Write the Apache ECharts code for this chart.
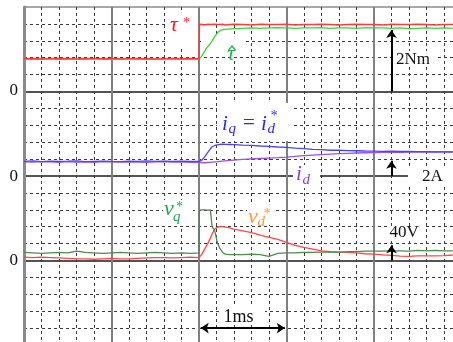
<!DOCTYPE html>
<html><head><meta charset="utf-8">
<script src="https://cdn.jsdelivr.net/npm/echarts@6/dist/echarts.min.js"></script>
<style>html,body{margin:0;padding:0;background:#fff}#c{width:453px;height:342px}</style>
</head><body><div id="c"></div>
<script>
// time in ms
const time = [0,0.1,0.2,0.3,0.4,0.5,0.6,0.7,0.8,0.9,1.0,1.1,1.2,1.3,1.4,1.5,1.6,1.7,1.8,1.9,2.0,
  2.005,2.03,2.06,2.08,2.1,2.13,2.15,2.18,2.21,2.24,2.27,2.3,2.35,2.4,
  2.5,2.6,2.7,2.8,2.9,3.0,3.1,3.2,3.3,3.4,3.5,3.6,3.7,3.8,3.9,4.0,4.1,4.2,4.3,4.4,4.5,4.6,4.7,4.8,4.9];
// torque reference tau* (Nm)
const tauRef = [0.97,0.98,0.96,0.97,0.98,0.97,0.96,0.98,0.97,0.97,0.98,0.96,0.97,0.98,0.97,0.96,0.97,0.98,0.97,0.98,0.97,
  1.98,1.99,1.97,1.98,1.99,1.98,1.97,1.99,1.98,1.98,1.99,1.97,1.98,1.99,
  1.98,1.97,1.99,1.98,1.98,1.99,1.97,1.98,1.98,1.99,1.98,1.97,1.98,1.99,1.98,1.98,1.97,1.99,1.98,1.98,1.99,1.98,1.97,1.98,1.98];
// estimated torque tau-hat (Nm)
const tauEst = [0.96,0.95,0.96,0.97,0.95,0.96,0.96,0.95,0.97,0.96,0.95,0.96,0.97,0.96,0.95,0.96,0.96,0.97,0.95,0.96,0.96,
  0.96,1.04,1.17,1.26,1.33,1.42,1.49,1.63,1.73,1.80,1.83,1.84,1.85,1.86,
  1.87,1.88,1.87,1.88,1.89,1.88,1.87,1.88,1.88,1.89,1.87,1.88,1.88,1.87,1.89,1.88,1.88,1.87,1.88,1.86,1.87,1.88,1.87,1.88,1.87];
// currents (A)
const iq = [1.74,1.78,1.70,1.76,1.72,1.75,1.79,1.71,1.74,1.77,1.73,1.70,1.76,1.74,1.78,1.72,1.75,1.73,1.77,1.74,1.72,
  1.74,1.86,2.21,2.51,2.80,3.22,3.46,3.61,3.69,3.75,3.77,3.74,3.73,3.72,
  3.66,3.62,3.55,3.51,3.43,3.38,3.29,3.23,3.15,3.11,3.05,3.05,3.00,2.99,2.96,2.95,2.92,2.93,2.90,2.91,2.88,2.89,2.86,2.86,2.84];
const id = [1.68,1.64,1.70,1.66,1.62,1.69,1.65,1.67,1.63,1.70,1.66,1.64,1.68,1.65,1.62,1.67,1.69,1.64,1.66,1.63,1.62,
  1.60,1.58,1.57,1.58,1.60,1.62,1.64,1.67,1.70,1.74,1.77,1.80,1.85,1.89,
  1.96,2.02,2.07,2.12,2.17,2.24,2.32,2.40,2.47,2.54,2.59,2.64,2.68,2.72,2.75,2.77,2.79,2.80,2.81,2.82,2.83,2.84,2.84,2.85,2.86];
// voltage references (V)
const vq = [19,18,17,18,19,18,22,19,18,17,18,19,18,17,18,19,18,17,18,17,18,
  119,120,120,120,119,120,80,70,42,28,19,15,14,14,
  14,15,14,10,17,18,18,19,19,20,20,20,21,21,22,22,22,23,23,22,24,23,24,23,23];
const vd = [8,7,8,7,6,5,4,4,3,4,5,4,4,5,6,7,7,6,7,8,7,
  8,14,25,33,40,53,63,74,79,80,80,79,77,74,
  70,66,60,55,50,43,36,31,27,23,21,20,19,18,16,15,13.5,12,10.5,10,11,11,11,11.5,13];
// scale annotations
const torqueScale = 2, currentScale = 2, voltageScale = 40, timeScale = 1;

const pairs = v => time.map((t, i) => [t, v[i]]);
const chart = echarts.init(document.getElementById('c'));
const dash = {color: '#3a3a3a', width: 1, type: [3, 3]};
const SERIF = '"Liberation Serif", "DejaVu Serif", serif';
const R = (x, y, w, h) => ({type: 'rect', shape: {x, y, width: w, height: h}, style: {fill: '#fff'}, z: 1, silent: true});
const T = (x, y, s, size, color, italic, align) => ({type: 'text', x: x, y: y, z: 10, silent: true,
  style: {text: s, font: (italic ? 'italic ' : '') + size + 'px ' + SERIF, fill: color,
    align: align || 'left', textAlign: align || 'left', verticalAlign: 'middle', textVerticalAlign: 'middle'}});
const arrowML = (a, b, both) => ({silent: true, symbol: [both ? 'arrow' : 'none', 'arrow'], symbolSize: 8,
  lineStyle: {color: '#000', width: 2, type: 'solid'}, label: {show: false}, emphasis: {disabled: true},
  data: [[{coord: a}, {coord: b}]]});
const line = (name, data, color, yi, w, extra) => Object.assign({type: 'line', name, data: pairs(data), yAxisIndex: yi,
  showSymbol: false, symbol: 'none', lineStyle: {color, width: w}, itemStyle: {color}, z: 3, animation: false}, extra || {});

chart.setOption({
  animation: false,
  backgroundColor: '#fff',
  grid: {left: 24, top: 7, width: 437.5, height: 338, containLabel: false, outerBoundsMode: 'none'},
  xAxis: {type: 'value', min: 0, max: 5, interval: 1,
    axisLine: {show: false}, axisTick: {show: false}, axisLabel: {show: false},
    splitLine: {show: true, lineStyle: {color: '#808080', width: 2}},
    minorTick: {show: false, splitNumber: 5}, minorSplitLine: {show: true, lineStyle: dash}},
  yAxis: [
    {type: 'value', min: -7.5, max: 2.5, interval: 2.5, position: 'left',
      axisLine: {show: true, onZero: false, lineStyle: {color: '#8a8a8a', width: 3}},
      axisTick: {show: false}, axisLabel: {show: false},
      splitLine: {show: true, lineStyle: {color: ['#8a8a8a', '#1a1a1a', '#1a1a1a', '#1a1a1a', '#8a8a8a'], width: 1.5}},
      minorTick: {show: false, splitNumber: 5}, minorSplitLine: {show: true, lineStyle: dash}},
    {type: 'value', min: -20, max: 20, show: false},
    {type: 'value', min: -200, max: 600, show: false}
  ],
  series: [
    line('tauEst', tauEst, '#3fcf3f', 0, 1.3),
    line('tauRef', tauRef, '#ff3c3c', 0, 1.5, {markLine: arrowML([4.2, 0], [4.2, 1.82])}),
    line('id', id, '#9a50e0', 1, 1.3),
    line('iq', iq, '#4545ff', 1, 1.3, {markLine: arrowML([4.2, 0], [4.2, 1.8])}),
    line('vd', vd, '#ff4646', 2, 1.3, {markLine: arrowML([4.2, 0], [4.2, 36])}),
    line('vq', vq, '#4e8a4e', 2, 1.3, {markLine: arrowML([2.02, -160], [2.98, -160], true)})
  ],
  graphic: [
    R(166, 11, 31, 37), R(203, 36, 43, 21), R(217, 103, 76, 38), R(293, 165, 27, 23),
    R(408, 167, 45, 20), R(395, 51, 40, 16), R(388, 226, 36, 15), R(222, 307, 43, 18),
    R(163, 200, 30, 26), R(247, 205, 26, 20),
    T(9.5, 91, '0', 17, '#111'), T(9.5, 176.5, '0', 17, '#111'), T(9.5, 261, '0', 17, '#111'),
    T(396, 59.5, torqueScale + 'Nm', 17, '#111'), T(422, 177, currentScale + 'A', 17, '#111'),
    T(389.5, 233, voltageScale + 'V', 17, '#111'), T(238.5, 317.5, timeScale + 'ms', 18, '#111', false, 'center'),
    // tau*
    T(170, 25.5, 'τ', 22, '#ee1c24', true), T(182.5, 23.2, '*', 14, '#ee1c24', true),
    // tau hat
    T(227, 54.2, 'τ', 22, '#22b04b', true),
    {type: 'polyline', shape: {points: [[228.5, 50], [232, 46], [235.5, 50]]}, style: {stroke: '#22b04b', lineWidth: 1.2, fill: null}, z: 10, silent: true},
    // i_q = i_d*
    T(222, 124.6, 'i', 21, '#2a2aee', true), T(228.5, 128.7, 'q', 15, '#2a2aee', true),
    T(243, 123.5, '=', 21, '#2a2aee'), T(261, 124.6, 'i', 21, '#2a2aee', true),
    T(267.5, 128.9, 'd', 15, '#2a2aee', true), T(270, 116, '*', 14, '#2a2aee', true),
    // i_d
    T(296, 174.6, 'i', 21, '#8a3fc9', true), T(302.5, 179.9, 'd', 15, '#8a3fc9', true),
    // v_q*
    T(164, 209.2, 'v', 22, '#20a050', true), T(173, 216.9, 'q', 15, '#20a050', true), T(175.5, 207.4, '*', 14, '#20a050', true),
    // v_d*
    T(248, 217.5, 'v', 22, '#ff9a2a', true), T(257.5, 221.9, 'd', 15, '#ff9a2a', true), T(263, 214, '*', 14, '#ff9a2a', true)
  ]
});
</script></body></html>
